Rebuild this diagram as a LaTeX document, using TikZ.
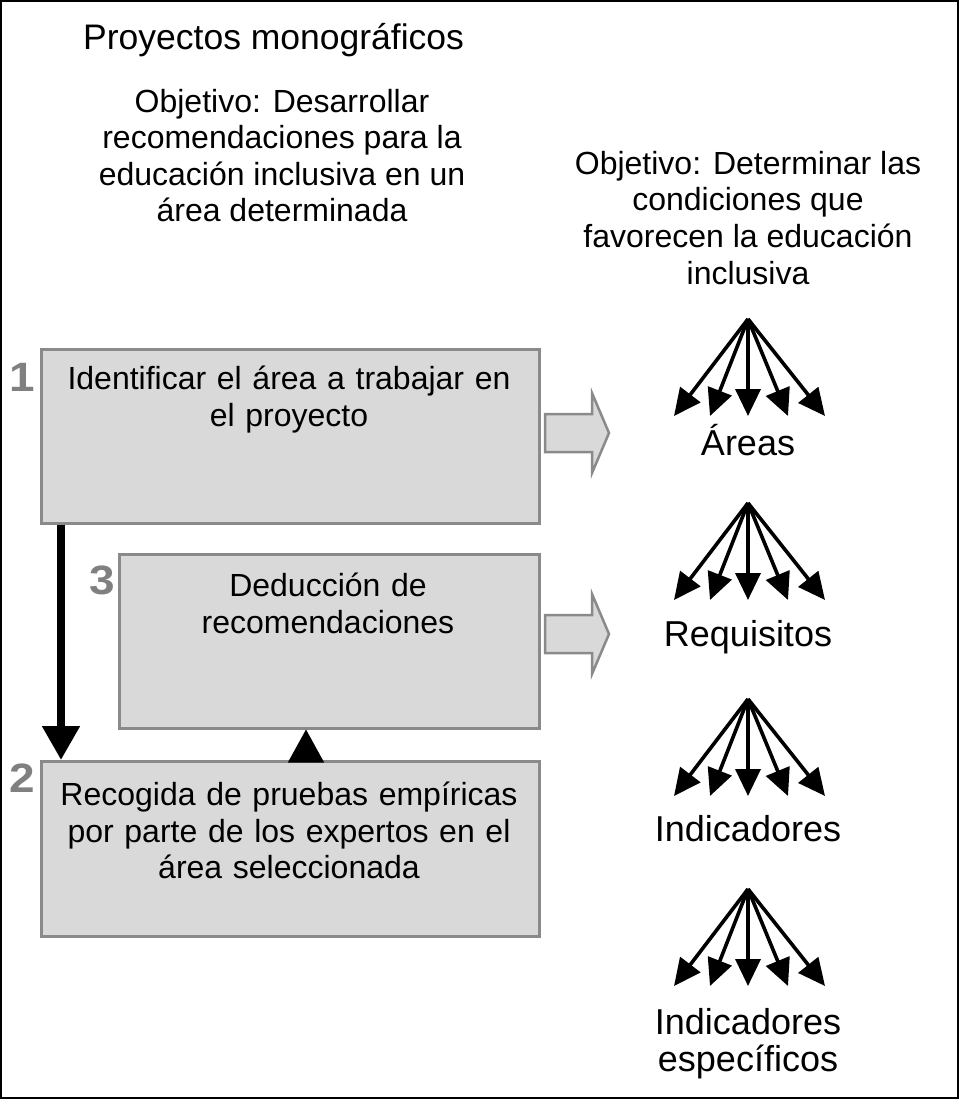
\documentclass[tikz,border=0pt]{standalone}
\usepackage{fontspec}
\usepackage{graphicx}
\setmainfont{Liberation Sans}
\usetikzlibrary{arrows.meta}
\definecolor{boxfill}{HTML}{D9D9D9}
\definecolor{boxline}{HTML}{8A8A8A}
\definecolor{numgray}{HTML}{808080}
\newcommand{\stepnum}[1]{\scalebox{1.12}[1]{#1}}
\tikzset{
  stepbox/.style={draw=boxline, fill=boxfill, line width=2.5pt, inner sep=0pt, anchor=north west},
  boxtext/.style={anchor=north, inner sep=0pt, align=center, font=\fontsize{32}{36.8}\selectfont},
  plaintext/.style={inner sep=0pt, align=center, font=\fontsize{32}{36.6}\selectfont},
  titletext/.style={inner sep=0pt, anchor=base west, font=\fontsize{35.5}{42}\selectfont},
  labeltext/.style={inner sep=0pt, align=center, anchor=north, font=\fontsize{36}{37}\selectfont},
  numtext/.style={inner sep=0pt, anchor=base, text=numgray, font=\fontsize{41}{46}\selectfont\bfseries},
  fanarrow/.style={line width=3.6pt, -{Triangle[length=27pt,width=25pt]}},
  bigarrow/.style={line width=8pt, -{Triangle[length=34pt,width=36pt]}},
  smallarrow/.style={line width=1.5pt, -{Triangle[length=33pt,width=36pt]}},
  blockarrow/.style={draw=boxline, fill=boxfill, line width=2.5pt, line join=miter},
}
\begin{document}
\begin{tikzpicture}[x=1pt,y=-1pt]
\useasboundingbox (0,0) rectangle (959,1099);
\draw[line width=2pt] (1,1) rectangle (958,1098);

% headings
\node[titletext] (title) at (83,50) {Proyectos monográficos};
\node[plaintext, anchor=north] (objL) at (282,82) {\rule{0pt}{30pt}Objetivo: Desarrollar\\recomendaciones para la\\educación inclusiva en un\\área determinada};
\node[plaintext, anchor=north] (objR) at (748,144) {\rule{0pt}{30pt}Objetivo: Determinar las\\condiciones que\\favorecen la educación\\inclusiva};

% boxes
\node[stepbox, minimum width=498pt, minimum height=174pt] (b1) at (40,348) {};
\node[stepbox, minimum width=420pt, minimum height=174pt] (b3) at (118,553) {};
\node[stepbox, minimum width=498pt, minimum height=175pt] (b2) at (40,760) {};

\node[boxtext, text width=480pt] (t1) at (289,359) {\rule{0pt}{30pt}Identificar el área a trabajar en\\el proyecto};
\node[boxtext, text width=400pt] (t3) at (328,566) {\rule{0pt}{30pt}Deducción de\\recomendaciones};
\node[boxtext, text width=490pt] (t2) at (289,775) {\rule{0pt}{30pt}Recogida de pruebas empíricas\\por parte de los expertos en el\\área seleccionada};

% numbers
\node[numtext] (n1) at (22,391) {\stepnum{1}};
\node[numtext] (n3) at (102,594) {\stepnum{3}};
\node[numtext] (n2) at (22,792) {\stepnum{2}};

% vertical arrows
\coordinate (bigx) at (61,0);
\coordinate (smallx) at (306,0);
\draw[bigarrow] (b1.south west -| bigx) -- (b2.north west -| bigx);
\draw[smallarrow] (b2.north west -| smallx) -- (b3.south west -| smallx);

% block arrows
\foreach \c in {433,634}{
  \draw[blockarrow] (545,\c-19) -- (592,\c-19) -- (592,\c-40) -- (609,\c)
    -- (592,\c+40) -- (592,\c+19) -- (545,\c+19) -- cycle;
}

% fans
\foreach \n/\y in {f1/319, f2/503, f3/699, f4/889}{
  \coordinate (\n) at (748,\y);
  \foreach \dx [count=\i] in {-74,-38,0,40,77}{
    \coordinate (\n t\i) at (748+\dx,\y+97);
    \draw[fanarrow] (\n) -- (\n t\i);
  }
}

% fan labels
\node[labeltext] (l1) at (748,424) {\rule{0pt}{30pt}Áreas};
\node[labeltext] (l2) at (748,616) {\rule{0pt}{30pt}Requisitos};
\node[labeltext] (l3) at (748,811) {\rule{0pt}{30pt}Indicadores};
\node[labeltext] (l4) at (748,1004) {\rule{0pt}{30pt}Indicadores\\específicos};
\end{tikzpicture}
\end{document}
